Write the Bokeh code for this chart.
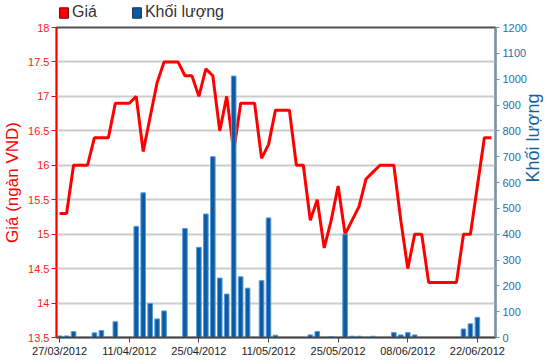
import math
from bokeh.plotting import figure
from bokeh.layouts import column
from bokeh.models import (Range1d, LinearAxis, FixedTicker, NumeralTickFormatter,
                          Legend, LegendItem)
from bokeh.embed import file_html
from bokeh.resources import INLINE

# ---- data (trading-day index based) ----
tick_index = [0, 10, 20, 30, 40, 50, 60]
tick_labels = ["27/03/2012", "11/04/2012", "25/04/2012", "11/05/2012",
               "25/05/2012", "08/06/2012", "22/06/2012"]

price = [15.3, 15.3, 16.0, 16.0, 16.0, 16.4, 16.4, 16.4, 16.9, 16.9,
         16.9, 17.0, 16.2, 16.7, 17.2, 17.5, 17.5, 17.5, 17.3, 17.3,
         17.0, 17.4, 17.3, 16.5, 17.0, 16.2, 16.9, 16.9, 16.9, 16.1,
         16.3, 16.8, 16.8, 16.8, 16.0, 16.0, 15.2, 15.5, 14.8, 15.2,
         15.7, 15.0, 15.2, 15.4, 15.8, 15.9, 16.0, 16.0, 16.0, 15.2,
         14.5, 15.0, 15.0, 14.3, 14.3, 14.3, 14.3, 14.3, 15.0, 15.0,
         15.7, 16.4, 16.4]

volume = [6, 6, 23, 0, 0, 18, 27, 0, 61, 0,
          0, 430, 560, 132, 72, 103, 0, 0, 422, 0,
          349, 478, 700, 230, 168, 1012, 235, 191, 0, 220,
          463, 9, 0, 0, 0, 0, 10, 23, 0, 4,
          0, 400, 5, 5, 0, 5, 0, 0, 19, 10,
          19, 10, 0, 0, 0, 0, 0, 0, 33, 53,
          78, 0, 0]

price_ticks = [13.5, 14, 14.5, 15, 15.5, 16, 16.5, 17, 17.5, 18]
volume_ticks = [0, 100, 200, 300, 400, 500, 600, 700, 800, 900, 1000, 1100, 1200]
legend_labels = ["Giá", "Khối lượng"]

day = list(range(len(price)))
bar_x = [d for d, v in zip(day, volume) if v > 0]
bar_top = [v for v in volume if v > 0]

font = "Liberation Sans"
FW, FH = 439, 310

# ---------------- legend strip ----------------
lf = figure(frame_width=540, frame_height=21, output_backend="svg",
            toolbar_location=None, x_axis_type=None, y_axis_type=None,
            x_range=Range1d(0, 1), y_range=Range1d(0, 1),
            min_border_left=0, min_border_right=0, min_border_top=0,
            min_border_bottom=0)
lf.outline_line_color = None
lf.xgrid.visible = False
lf.ygrid.visible = False
# hidden renderers that only supply the legend swatches
leg_red = lf.vbar(x=bar_x, top=bar_top, width=0.5, fill_color="#ff0000",
                  line_color="#6a0000", line_width=1, visible=False)
leg_blue = lf.vbar(x=bar_x, top=bar_top, width=0.5, fill_color="#0b5ca5",
                   line_color="#1a2a3a", line_width=1, visible=False)
legend = Legend(items=[LegendItem(label=legend_labels[0], renderers=[leg_red]),
                       LegendItem(label=legend_labels[1], renderers=[leg_blue])],
                orientation="horizontal", location=(58, 0),
                background_fill_alpha=0, border_line_color=None,
                inactive_fill_alpha=0,
                glyph_width=11, glyph_height=13, label_text_font=font,
                label_text_font_size="16px", label_text_color="#333333",
                label_standoff=3, spacing=34, padding=2, margin=0,
                label_height=13)
lf.add_layout(legend, "center")

# ---------------- main chart ----------------
p = figure(frame_width=FW, frame_height=FH, output_backend="svg",
           toolbar_location=None,
           x_range=Range1d(-0.45, 62.6), y_range=Range1d(13.5, 18),
           min_border_left=54, min_border_right=50, min_border_top=6,
           min_border_bottom=21)
p.outline_line_color = "#505050"
p.outline_line_width = 2
p.extra_y_ranges = {"vol": Range1d(0, 1200)}

p.xgrid.visible = False
p.ygrid.grid_line_color = "#cccccc"
p.ygrid.grid_line_width = 2
p.ygrid.ticker = FixedTicker(ticks=price_ticks)

line_r = p.line(day, price, line_color="#ff0000", line_width=3)
bars = p.vbar(x=bar_x, top=bar_top, width=0.66, bottom=0, y_range_name="vol",
              fill_color="#0b5ca5", line_color="#5a9ad4", line_width=1)

# x axis
xa = p.xaxis[0]
xa.ticker = FixedTicker(ticks=tick_index)
xa.major_label_overrides = {i: l for i, l in zip(tick_index, tick_labels)}
xa.axis_line_color = "#444444"
xa.axis_line_width = 1.5
xa.major_tick_line_color = "#444444"
xa.major_tick_out = 5
xa.major_tick_in = 0
xa.minor_tick_line_color = None
xa.major_label_text_font = font
xa.major_label_text_font_size = "11px"
xa.major_label_text_color = "#222222"
xa.major_label_standoff = 2

# left axis
ya = p.yaxis[0]
ya.ticker = FixedTicker(ticks=price_ticks)
ya.formatter = NumeralTickFormatter(format="0.[0]")
ya.axis_line_color = "#ff0000"
ya.axis_line_width = 1.5
ya.major_tick_line_color = "#ff0000"
ya.major_tick_out = 5
ya.major_tick_in = 0
ya.minor_tick_line_color = None
ya.major_label_text_font = font
ya.major_label_text_font_size = "11px"
ya.major_label_text_color = "#ff1a1a"
ya.major_label_standoff = 2
ya.axis_label = "Giá (ngàn VND)"
ya.axis_label_text_font = font
ya.axis_label_text_font_size = "17px"
ya.axis_label_text_font_style = "normal"
ya.axis_label_text_color = "#ff0000"
ya.axis_label_standoff = 3

# right axis
ra = LinearAxis(y_range_name="vol", ticker=FixedTicker(ticks=volume_ticks))
ra.axis_line_color = "#5f9cc0"
ra.axis_line_width = 1.5
ra.major_tick_line_color = "#5f9cc0"
ra.major_tick_out = 4
ra.major_tick_in = 0
ra.minor_tick_line_color = None
ra.major_label_text_font = font
ra.major_label_text_font_size = "11px"
ra.major_label_text_color = "#2a6ea8"
ra.major_label_standoff = 3
ra.axis_label = "Khối lượng"
ra.axis_label_text_font = font
ra.axis_label_text_font_size = "18px"
ra.axis_label_text_font_style = "normal"
ra.axis_label_text_color = "#1a5f9e"
ra.axis_label_standoff = 3
ra.axis_label_orientation = math.pi / 2
p.add_layout(ra, "right")

layout = column(lf, p, spacing=0)
open("out.html", "w").write(file_html(layout, INLINE))
